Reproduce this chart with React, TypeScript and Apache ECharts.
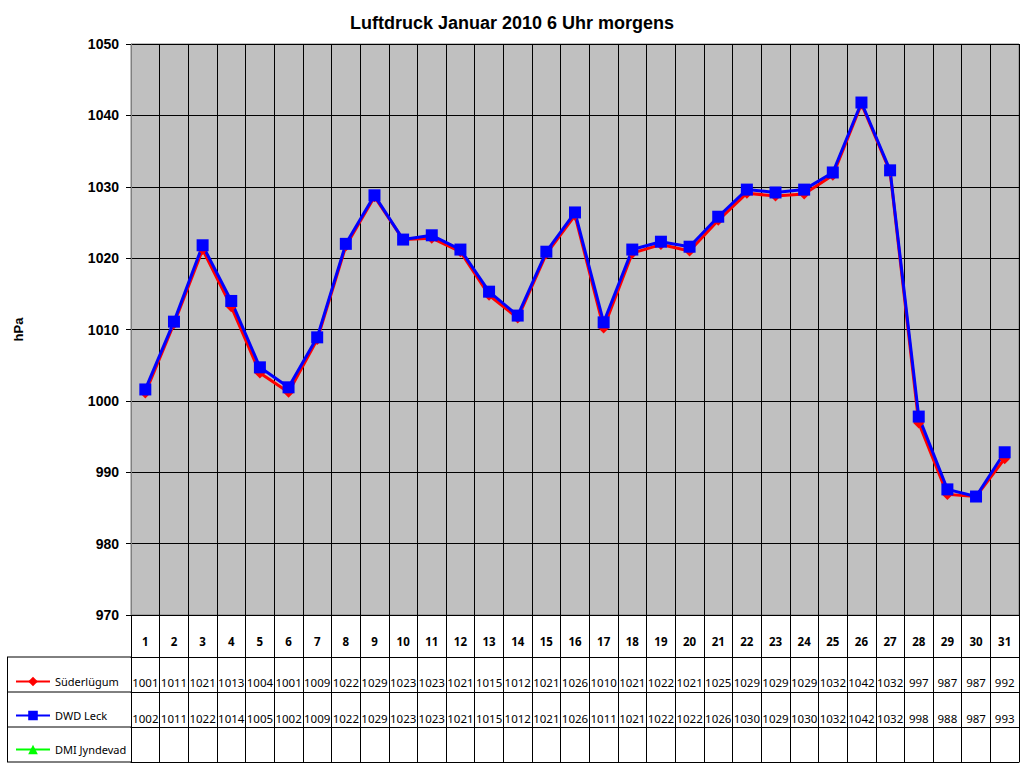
import React, { useEffect, useRef } from "react";
import * as echarts from "echarts";

const days = Array.from({ length: 31 }, (_, i) => String(i + 1));
const suederluegum = [
  1001.1, 1010.8, 1021.2, 1013.2, 1003.9, 1001.2, 1008.6, 1021.7, 1028.6, 1022.6,
  1022.8, 1020.9, 1014.8, 1011.6, 1020.6, 1026.0, 1010.2, 1020.7, 1021.9, 1021.0,
  1025.3, 1029.1, 1028.7, 1029.0, 1031.6, 1041.6, 1032.1, 996.9, 986.9, 986.6, 991.9,
];
const dwdLeck = [
  1001.6, 1011.1, 1021.8, 1014.0, 1004.7, 1001.9, 1008.9, 1022.0, 1028.8, 1022.6,
  1023.2, 1021.2, 1015.3, 1011.95, 1020.9, 1026.4, 1011.0, 1021.2, 1022.3, 1021.6,
  1025.8, 1029.6, 1029.2, 1029.6, 1032.0, 1041.8, 1032.3, 997.8, 987.6, 986.6, 992.8,
];
const dmiJyndevad: number[] = [];
const seriesNames = ["Süderlügum", "DWD Leck", "DMI Jyndevad"];
const yMin = 970;
const yMax = 1050;
const yStep = 10;

const GL = 131, GR = 1019, GT = 44, GB = 615;
const ROW = 35;
const HEAD = 42;

export default function App() {
  const ref = useRef<HTMLDivElement>(null);
  useEffect(() => {
    const chart = echarts.init(ref.current!, null, { renderer: "svg" });
    const tableFont = "Noto Sans";
    const rowLabel = (vals: number[]) => (_v: string, idx: number) =>
      vals[idx] === undefined ? "" : String(Math.round(vals[idx]));
    const baseX = {
      type: "category",
      data: days,
      position: "bottom",
      boundaryGap: true,
      axisTick: { show: false },
      splitLine: { show: false },
      axisLine: { show: true, lineStyle: { color: "#000", width: 1 } },
    };
    const lines: any[] = [];
    [GB + HEAD, GB + HEAD + ROW, GB + HEAD + 2 * ROW, GB + HEAD + 3 * ROW].forEach((y) => {
      lines.push({
        type: "line",
        shape: { x1: 7, y1: y, x2: GL, y2: y },
        style: { stroke: "#000", lineWidth: 1 },
        silent: true,
      });
    });
    lines.push({
      type: "line",
      shape: { x1: 7.5, y1: GB + HEAD, x2: 7.5, y2: GB + HEAD + 3 * ROW },
      style: { stroke: "#000", lineWidth: 1 },
      silent: true,
    });
    chart.setOption({
      animation: false,
      backgroundColor: "#fff",
      title: {
        text: "Luftdruck Januar 2010 6 Uhr morgens",
        left: "center",
        top: 9,
        textStyle: { fontFamily: "Liberation Sans", fontWeight: "bold", fontSize: 18, color: "#000" },
      },
      grid: {
        left: GL,
        right: 1024 - GR,
        top: GT,
        bottom: 768 - GB,
        show: true,
        backgroundColor: "#C0C0C0",
        borderColor: "#808080",
        borderWidth: 1,
      },
      legend: {
        orient: "vertical",
        left: 10,
        top: GB + HEAD + 14,
        itemWidth: 34,
        itemHeight: 12,
        itemGap: 23,
        data: seriesNames,
        textStyle: { fontFamily: tableFont, fontSize: 11, color: "#000", padding: [7, 0, 0, 0] },
      },
      xAxis: [
        {
          ...baseX,
          axisTick: { show: true, interval: 0, inside: false, length: HEAD + 3 * ROW, lineStyle: { color: "#000" } },
          splitLine: { show: true, interval: 0, lineStyle: { color: "#000", width: 1 } },
          axisLabel: {
            interval: 0,
            margin: 20,
            fontFamily: tableFont,
            fontWeight: "bold",
            fontSize: 11.5,
            color: "#000",
          },
        },
        {
          ...baseX,
          offset: HEAD,
          axisLabel: { interval: 0, margin: 19, fontFamily: tableFont, fontSize: 11.5, color: "#000", formatter: rowLabel(suederluegum) },
        },
        {
          ...baseX,
          offset: HEAD + ROW,
          axisLabel: { interval: 0, margin: 20, fontFamily: tableFont, fontSize: 11.5, color: "#000", formatter: rowLabel(dwdLeck) },
        },
        {
          ...baseX,
          offset: HEAD + 2 * ROW,
          axisLabel: { show: false },
        },
        {
          ...baseX,
          offset: HEAD + 3 * ROW,
          axisLabel: { show: false },
        },
      ],
      yAxis: {
        type: "value",
        min: yMin,
        max: yMax,
        interval: yStep,
        name: "hPa",
        nameLocation: "middle",
        nameGap: 106,
        nameTextStyle: { fontFamily: "Liberation Sans", fontWeight: "bold", fontSize: 13, color: "#000" },
        axisLine: { show: true, lineStyle: { color: "#808080" } },
        axisTick: { show: true, length: 5, lineStyle: { color: "#000" } },
        axisLabel: {
          margin: 12,
          fontFamily: "Liberation Sans",
          fontWeight: "bold",
          fontSize: 14,
          color: "#000",
          formatter: (v: number) => String(v),
        },
        splitLine: { show: true, lineStyle: { color: "#000", width: 1 } },
      },
      series: [
        {
          name: seriesNames[0],
          type: "line",
          data: suederluegum,
          symbol: "diamond",
          symbolSize: 11,
          color: "#FF0000",
          itemStyle: { color: "#FF0000" },
          lineStyle: { color: "#FF0000", width: 3 },
        },
        {
          name: seriesNames[1],
          type: "line",
          data: dwdLeck,
          symbol: "rect",
          symbolSize: 12,
          color: "#0000FF",
          itemStyle: { color: "#0000FF" },
          lineStyle: { color: "#0000FF", width: 3 },
        },
        {
          name: seriesNames[2],
          type: "line",
          data: dmiJyndevad,
          symbol: "triangle",
          symbolSize: 12,
          color: "#00FF00",
          itemStyle: { color: "#00FF00" },
          lineStyle: { color: "#00FF00", width: 3 },
        },
      ],
      graphic: lines,
    });
    return () => chart.dispose();
  }, []);
  return <div ref={ref} style={{ position: "fixed", left: 0, top: 0, width: 1024, height: 768 }} />;
}
